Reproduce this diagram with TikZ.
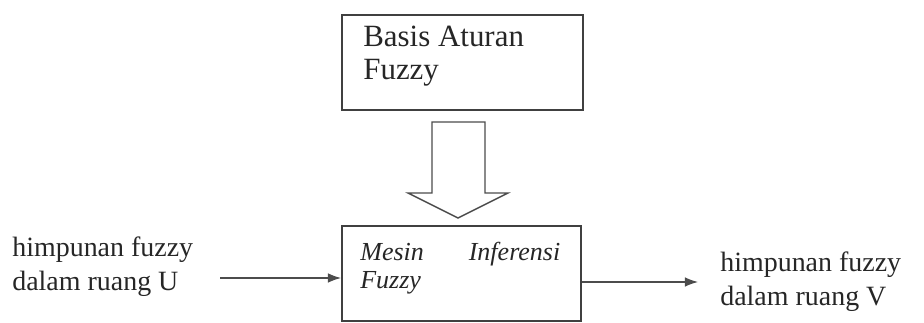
\documentclass[tikz,border=0pt]{standalone}
\usepackage{fontspec}
\setmainfont{Liberation Serif}
\usetikzlibrary{arrows.meta}

\tikzset{
  blok/.style={draw=black!75, line width=1.1pt, minimum height=1.9cm, inner sep=0pt},
  teks/.style={anchor=north west, inner sep=0pt, align=left, text=black!85},
  panah/.style={draw=black!70, line width=0.7pt, -{Latex[length=7.5pt,width=5.5pt]}}
}

\begin{document}
\begin{tikzpicture}[x=0.02cm, y=-0.02cm]
			\useasboundingbox (0,0) rectangle (924,323);
			\node[blok, minimum width=4.82cm] (basis) at (462.5,62.5) {};
			\node[blok, minimum width=4.78cm] (mesin) at (461.5,273.5) {};
			\node[teks, font=\fontsize{17.6}{18.8}\selectfont] (basisteks) at (363,26) {Basis Aturan\\Fuzzy};
			\node[teks, font=\itshape\fontsize{14.8}{15.9}\selectfont] (mesinteks) at (360,242) {\makebox[4cm]{Mesin\hfill Inferensi}\\Fuzzy};

			% panah kosong dari basis ke mesin
			\draw[draw=black!70, line width=0.8pt, line join=miter]
				(432,122) -- (432,193) -- (408,193) -- (458,218) -- (508,193) -- (485,193) -- (485,122) -- cycle;

			\coordinate (u) at (220,278);
			\coordinate (v) at (698,282);
			\draw[panah] (u) -- (u -| mesin.west);
			\draw[panah] (mesin.east |- v) -- (v);

			\node[teks, font=\fontsize{15.9}{19.9}\selectfont] (masukan) at (12,236) {himpunan fuzzy\\dalam ruang U};
			\node[teks, font=\fontsize{15.9}{19.9}\selectfont] (keluaran) at (720,251) {himpunan fuzzy\\dalam ruang V};
		\end{tikzpicture}
\end{document}
